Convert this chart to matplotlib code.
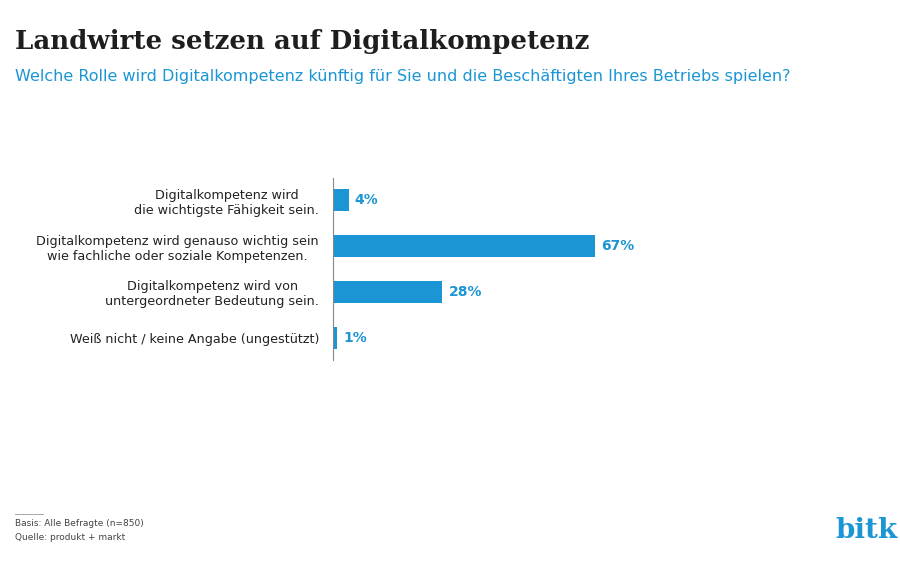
import matplotlib
matplotlib.use("Agg")
import matplotlib.pyplot as plt

categories = ["Digitalkompetenz wird\ndie wichtigste Fähigkeit sein.",
              "Digitalkompetenz wird genauso wichtig sein\nwie fachliche oder soziale Kompetenzen.",
              "Digitalkompetenz wird von\nuntergeordneter Bedeutung sein.",
              "Weiß nicht / keine Angabe (ungestützt)"]
values = [4, 67, 28, 1]

blue = "#1b95d4"
fig = plt.figure(figsize=(9, 5.63), dpi=100)
ax = fig.add_axes([0.37, 1 - 360/563, 0.434, 182/563])
pos = list(range(len(values)))
ax.barh(pos, values, height=0.48, color=blue)
ax.set_ylim(3.48, -0.48)
ax.set_xlim(0, 100)
for p, v in zip(pos, values):
    ax.text(v + 1.6, p, f"{v}%", va="center", ha="left", color=blue, fontsize=10, fontweight="bold")
ax.set_yticks(pos)
ax.set_yticklabels(categories, fontsize=9.2, color="#222222", ha="right", multialignment="center")
ax.tick_params(axis="y", length=0, pad=10)
ax.set_xticks([])
for s in ["top", "right", "bottom"]:
    ax.spines[s].set_visible(False)
ax.spines["left"].set_color("#888888")

fig.text(0.017, 1 - 42/563, "Landwirte setzen auf Digitalkompetenz", fontsize=18.7, fontweight="bold",
         family="DejaVu Serif", color="#1e1e1e", va="center")
fig.text(0.017, 1 - 76/563, "Welche Rolle wird Digitalkompetenz künftig für Sie und die Beschäftigten Ihres Betriebs spielen?",
         fontsize=11.5, color=blue, va="center")
fig.add_artist(plt.Line2D([0.017, 0.048], [1 - 514/563]*2, color="#999999", lw=0.6))
fig.text(0.017, 1 - 524/563, "Basis: Alle Befragte (n=850)", fontsize=6.5, color="#444444", va="center")
fig.text(0.017, 1 - 538/563, "Quelle: produkt + markt", fontsize=6.5, color="#444444", va="center")
fig.text(0.997, 1 - 530/563, "bitk", fontsize=20, fontweight="bold", color=blue, va="center", ha="right",
         family="DejaVu Serif")
fig.savefig("out.png", dpi=100)
